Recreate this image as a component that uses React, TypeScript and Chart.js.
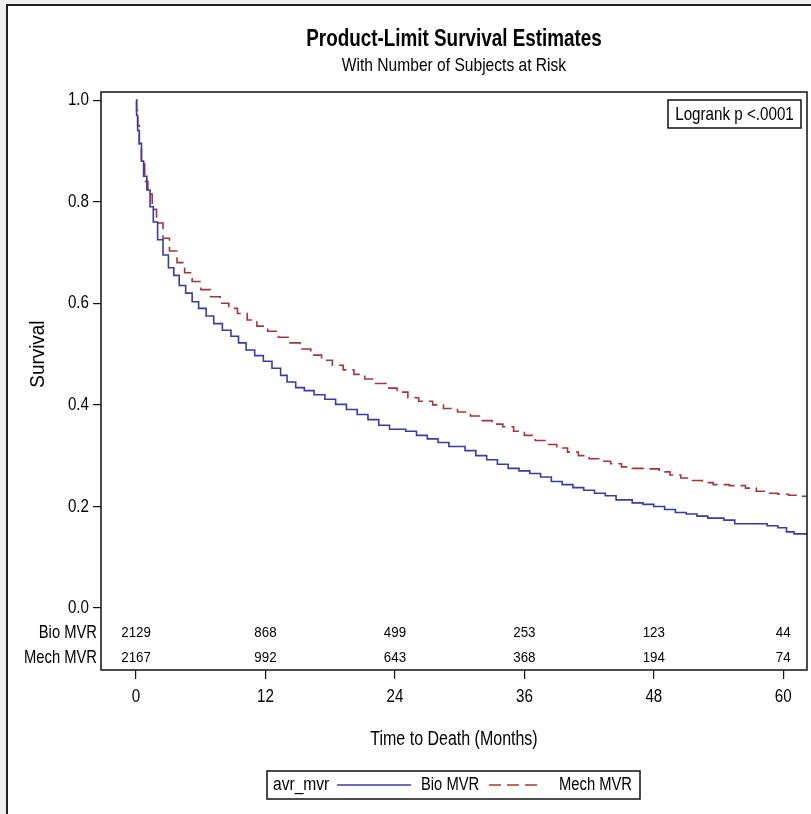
import React, { useEffect, useRef } from "react";
import { Chart, registerables } from "chart.js";

Chart.register(...registerables);

const FONT = '"Liberation Sans", Arial, sans-serif';
const NARROW = 0.82;

// Kaplan-Meier estimates (months, survival probability)
const bioTimes = [
  0, 0.05, 0.15, 0.3, 0.5, 0.7, 1.0, 1.3, 1.6, 2.0, 2.5, 3.0, 3.5, 4.0, 4.6, 5.2, 5.8, 6.5, 7.2, 8.0,
  8.8, 9.5, 10.2, 11.0, 11.8, 12.6, 13.4, 14.0, 14.8, 15.6, 16.5, 17.5, 18.5, 19.5, 20.5, 21.5, 22.5,
  23.5, 25.0, 26.0, 27.0, 28.0, 29.0, 30.5, 31.5, 32.5, 33.5, 34.5, 35.5, 36.5, 37.5, 38.5, 39.5, 40.5,
  41.5, 42.5, 43.5, 44.5, 46.0, 47.0, 48.0, 49.0, 50.0, 51.0, 52.0, 53.0, 54.5, 55.5, 58.5, 59.5, 60.3,
  61.0, 62.2,
];
const bioSurvival = [
  1.0, 0.97, 0.94, 0.915, 0.88, 0.85, 0.823, 0.79, 0.76, 0.725, 0.695, 0.67, 0.655, 0.635, 0.62, 0.603,
  0.59, 0.575, 0.56, 0.547, 0.535, 0.522, 0.508, 0.497, 0.486, 0.472, 0.458, 0.445, 0.434, 0.428, 0.42,
  0.411, 0.401, 0.391, 0.381, 0.371, 0.36, 0.352, 0.348, 0.34, 0.333, 0.326, 0.318, 0.31, 0.3, 0.292,
  0.283, 0.275, 0.27, 0.265, 0.258, 0.249, 0.243, 0.237, 0.232, 0.226, 0.221, 0.213, 0.207, 0.204, 0.2,
  0.194, 0.188, 0.185, 0.181, 0.177, 0.173, 0.166, 0.162, 0.158, 0.15, 0.146, 0.146,
];
const mechTimes = [
  0, 0.05, 0.15, 0.3, 0.5, 0.8, 1.1, 1.5, 1.9, 2.5, 3.1, 3.8, 4.5, 5.2, 6.0, 6.9, 7.8, 8.6, 9.4, 10.3,
  11.2, 12.2, 13.2, 14.2, 15.2, 16.2, 17.2, 18.2, 19.2, 20.2, 21.2, 22.2, 23.2, 24.2, 25.2, 26.2, 27.5,
  28.5, 29.8, 31.0, 32.0, 33.0, 34.0, 35.0, 36.0, 37.0, 38.0, 39.0, 40.0, 41.0, 42.0, 43.0, 44.0, 45.0,
  46.0, 47.5, 48.5, 49.5, 50.5, 51.5, 52.5, 53.5, 55.0, 56.5, 57.5, 58.5, 59.5, 60.5, 61.5, 62.2,
];
const mechSurvival = [
  1.0, 0.98, 0.95, 0.905, 0.875, 0.84, 0.815, 0.785, 0.758, 0.728, 0.703, 0.68, 0.66, 0.643, 0.627,
  0.613, 0.6, 0.59, 0.58, 0.567, 0.555, 0.545, 0.533, 0.522, 0.51, 0.498, 0.488, 0.478, 0.469, 0.46,
  0.451, 0.442, 0.433, 0.425, 0.414, 0.407, 0.4, 0.393, 0.386, 0.378, 0.369, 0.362, 0.357, 0.348, 0.34,
  0.33, 0.322, 0.315, 0.307, 0.3, 0.294, 0.289, 0.284, 0.278, 0.275, 0.274, 0.268, 0.262, 0.256, 0.251,
  0.247, 0.243, 0.241, 0.236, 0.23, 0.226, 0.224, 0.222, 0.22, 0.22,
];

const groupLabels = ["Bio MVR", "Mech MVR"];
const atRiskTimes = [0, 12, 24, 36, 48, 60];
const bioAtRisk = [2129, 868, 499, 253, 123, 44];
const mechAtRisk = [2167, 992, 643, 368, 194, 74];
const xTicks = [0, 12, 24, 36, 48, 60];
const yTicks = [0, 0.2, 0.4, 0.6, 0.8, 1.0];

const titleText = "Product-Limit Survival Estimates";
const subtitleText = "With Number of Subjects at Risk";
const xTitle = "Time to Death (Months)";
const yTitle = "Survival";
const legendTitle = "avr_mvr";
const logrankText = "Logrank p <.0001";

const BLUE = "#3a3aa8";
const RED = "#a3363a";

// draw condensed text (horizontal squeeze) at x,y
function narrowText(ctx: CanvasRenderingContext2D, text: string, x: number, y: number, font: string, align: CanvasTextAlign, rot = 0, sx = NARROW) {
  ctx.save();
  ctx.translate(x, y);
  if (rot) ctx.rotate(rot);
  ctx.scale(sx, 1);
  ctx.font = font;
  ctx.textAlign = align;
  ctx.textBaseline = "middle";
  ctx.fillText(text, 0, 0);
  ctx.restore();
}

const overlayPlugin = {
  id: "kmOverlay",
  afterDraw(chart: any) {
    const ctx = chart.ctx as CanvasRenderingContext2D;
    const { left, right, top, bottom } = chart.chartArea;
    const xs = chart.scales.x;
    const ys = chart.scales.y;
    ctx.save();
    // frame
    ctx.strokeStyle = "#111";
    ctx.lineWidth = 1.5;
    ctx.strokeRect(left, top, right - left, bottom - top);

    ctx.fillStyle = "#000";
    const cx = (left + right) / 2;
    narrowText(ctx, titleText, cx, 40, `bold 23px ${FONT}`, "center");
    narrowText(ctx, subtitleText, cx, 66, `19px ${FONT}`, "center");
    narrowText(ctx, xTitle, cx, 740, `19.5px ${FONT}`, "center");
    narrowText(ctx, yTitle, 38, ys.getPixelForValue(0.5), `21px ${FONT}`, "center", -Math.PI / 2, 0.9);

    // tick labels placed by the library's scales
    xs.ticks.forEach((t: any) => {
      narrowText(ctx, String(t.value), xs.getPixelForValue(t.value), 697, `18.5px ${FONT}`, "center");
    });
    ys.ticks.forEach((t: any) => {
      narrowText(ctx, Number(t.value).toFixed(1), 89, ys.getPixelForValue(t.value), `18.5px ${FONT}`, "right");
    });

    // at-risk table
    const rowsY = [633, 658];
    const rows = [bioAtRisk, mechAtRisk];
    rows.forEach((vals, r) => {
      narrowText(ctx, groupLabels[r], left - 4, rowsY[r], `18px ${FONT}`, "right");
      vals.forEach((v, i) => {
        narrowText(ctx, String(v), xs.getPixelForValue(atRiskTimes[i]), rowsY[r], `14.5px ${FONT}`, "center", 0, 0.92);
      });
    });

    // logrank box
    ctx.lineWidth = 1.5;
    ctx.strokeStyle = "#111";
    ctx.strokeRect(668, 100, 133, 28);
    narrowText(ctx, logrankText, 734.5, 114.5, `18.5px ${FONT}`, "center");

    // legend
    const ly = 785;
    ctx.strokeRect(267, 771, 373, 28);
    narrowText(ctx, legendTitle, 273, ly, `19px ${FONT}`, "left");
    ctx.lineWidth = 1.5;
    ctx.strokeStyle = BLUE;
    ctx.beginPath();
    ctx.moveTo(337, ly);
    ctx.lineTo(411, ly);
    ctx.stroke();
    narrowText(ctx, groupLabels[0], 421, ly, `18px ${FONT}`, "left");
    ctx.strokeStyle = RED;
    ctx.setLineDash([12, 6]);
    ctx.beginPath();
    ctx.moveTo(489, ly);
    ctx.lineTo(543, ly);
    ctx.stroke();
    ctx.setLineDash([]);
    narrowText(ctx, groupLabels[1], 559, ly, `18px ${FONT}`, "left");
    ctx.restore();
  },
};

export default function App() {
  const ref = useRef<HTMLCanvasElement | null>(null);
  useEffect(() => {
    if (!ref.current) return;
    const chart = new Chart(ref.current, {
      type: "line",
      data: {
        datasets: [
          {
            label: groupLabels[0],
            data: bioTimes.map((t, i) => ({ x: t, y: bioSurvival[i] })),
            borderColor: BLUE,
            borderWidth: 1.6,
            pointRadius: 0,
            stepped: "before",
            fill: false,
          },
          {
            label: groupLabels[1],
            data: mechTimes.map((t, i) => ({ x: t, y: mechSurvival[i] })),
            borderColor: RED,
            borderWidth: 1.6,
            borderDash: [12, 6],
            pointRadius: 0,
            stepped: "before",
            fill: false,
          },
        ],
      },
      options: {
        animation: false,
        responsive: false,
        devicePixelRatio: 1,
        layout: { padding: { top: 92, right: 4, bottom: 64, left: 0 } },
        plugins: {
          legend: { display: false },
          title: { display: false },
          tooltip: { enabled: false },
        },
        scales: {
          x: {
            type: "linear",
            min: -3.25,
            max: 62.2,
            afterBuildTicks: (s: any) => {
              s.ticks = xTicks.map((v) => ({ value: v }));
            },
            afterFit: (s: any) => {
              s.height = 80;
              s.paddingLeft = 0;
              s.paddingRight = 0;
            },
            grid: { display: true, drawOnChartArea: false, drawTicks: true, tickLength: 9, color: "#111", lineWidth: 1.2 },
            border: { display: false },
            ticks: { display: false, autoSkip: false },
          },
          y: {
            type: "linear",
            min: -0.122,
            max: 1.016,
            afterBuildTicks: (s: any) => {
              s.ticks = yTicks.map((v) => ({ value: v }));
            },
            afterFit: (s: any) => {
              s.width = 101;
              s.paddingTop = 0;
              s.paddingBottom = 0;
            },
            grid: { display: true, drawOnChartArea: false, drawTicks: true, tickLength: 8, color: "#111", lineWidth: 1.2 },
            border: { display: false },
            ticks: { display: false, autoSkip: false },
          },
        },
      },
      plugins: [overlayPlugin],
    } as any);
    return () => chart.destroy();
  }, []);

  return (
    <div style={{ position: "absolute", left: 0, top: 0, width: 811, height: 814, background: "#efefef", overflow: "hidden" }}>
      <div
        style={{
          position: "absolute",
          left: 6,
          top: 4,
          right: 0,
          bottom: 0,
          background: "#fff",
          borderLeft: "2px solid #222",
          borderTop: "2px solid #222",
        }}
      />
      <canvas ref={ref} width={811} height={814} style={{ position: "absolute", left: 0, top: 0 }} />
    </div>
  );
}
